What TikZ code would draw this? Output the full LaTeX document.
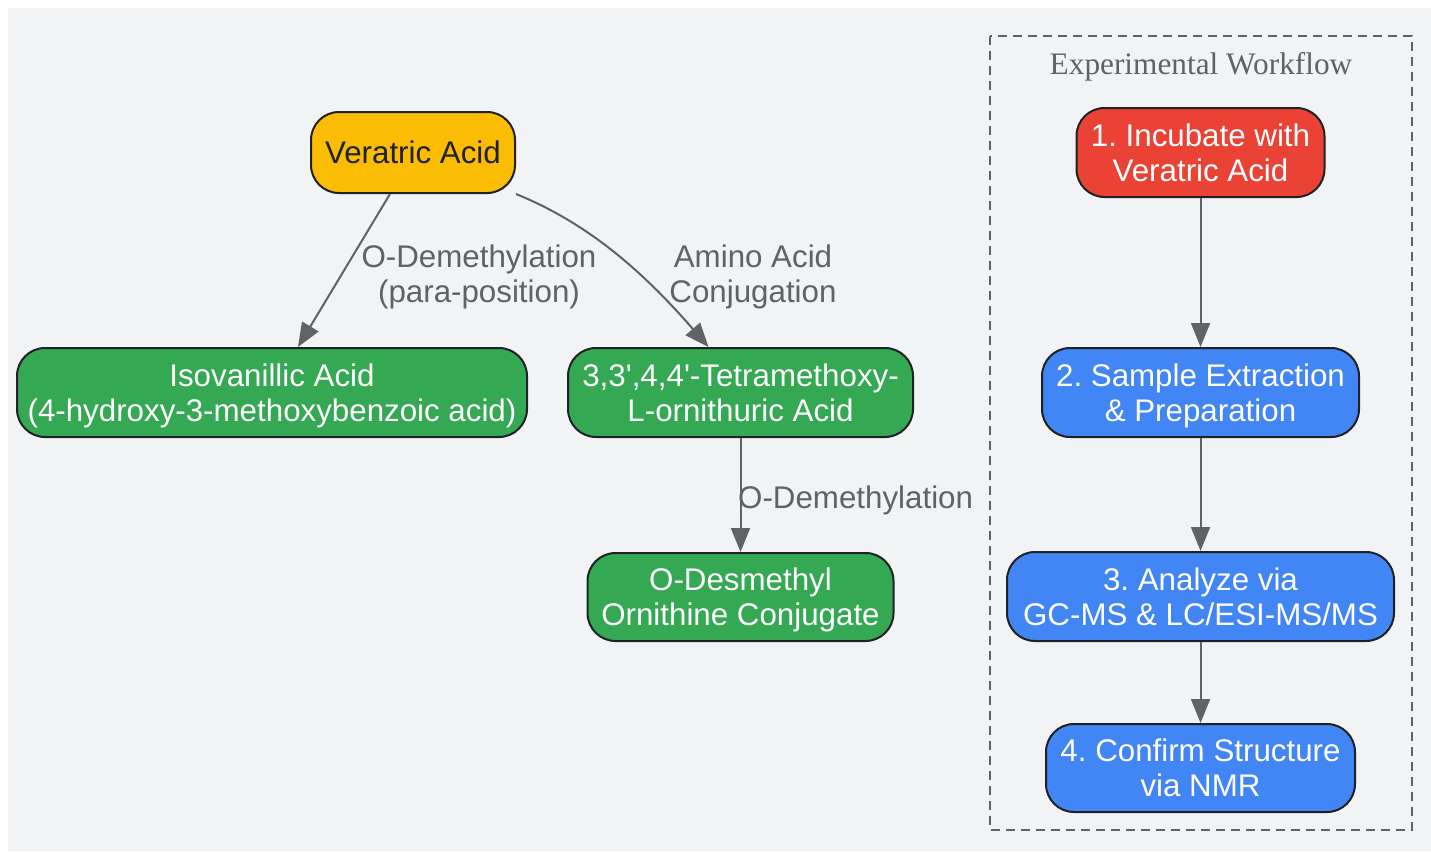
\documentclass[tikz,border=0pt]{standalone}
\usepackage{fontspec}
\setmainfont{Liberation Sans}[Ligatures=TeXOff]
\newfontfamily\titlefont{Liberation Serif}
\usetikzlibrary{arrows.meta}
\definecolor{bg}{HTML}{F1F3F4}
\definecolor{edgegray}{HTML}{5F6368}
\definecolor{bordercol}{HTML}{202124}
\definecolor{gyellow}{HTML}{FBBC04}
\definecolor{ggreen}{HTML}{34A853}
\definecolor{gred}{HTML}{EA4335}
\definecolor{gblue}{HTML}{4285F4}
\tikzset{
  box/.style={draw=bordercol, line width=2pt, rounded corners=28pt, inner sep=0pt, align=center,
    font=\frenchspacing\fontsize{31.3}{35}\selectfont, text=white, text depth=-4pt},
  lbl/.style={inner sep=0pt, align=center, text=edgegray, font=\fontsize{31.3}{35}\selectfont},
  conn/.style={draw=edgegray, line width=2pt, -{Triangle[length=24pt,width=19pt]}},
}
\begin{document}
\begin{tikzpicture}[x=1pt,y=-1pt]
\useasboundingbox (0,0) rectangle (1431,851);
\fill[white] (0,0) rectangle (1431,851);
\fill[bg] (8,8) rectangle (1431,851);
% workflow cluster
\draw[edgegray, line width=2pt, dash pattern=on 9pt off 6pt] (990,36) rectangle (1412,830);
\node[inner sep=0pt, text=edgegray, font=\titlefont\fontsize{31.3}{35}\selectfont] (wftitle) at (1201,67) {Experimental Workflow};
% pathway nodes
\node[box, fill=gyellow, text=bordercol, text depth=-1pt, minimum width=204pt, minimum height=81pt] (va) at (413,152.5) {Veratric Acid};
\node[box, fill=ggreen, minimum width=510pt, minimum height=89pt] (iso) at (272,392.5) {Isovanillic Acid\\(4-hydroxy-3-methoxybenzoic acid)};
\node[box, fill=ggreen, minimum width=345pt, minimum height=89pt] (tm) at (740.5,392.5) {3,3',4,4'-Tetramethoxy-\\L-ornithuric Acid};
\node[box, fill=ggreen, minimum width=306pt, minimum height=88pt] (od) at (740.5,597) {O-Desmethyl\\Ornithine Conjugate};
% workflow nodes
\node[box, fill=gred, minimum width=248pt, minimum height=89pt] (s1) at (1200.5,152.5) {1. Incubate with\\Veratric Acid};
\node[box, fill=gblue, minimum width=317pt, minimum height=89pt] (s2) at (1200.5,392.5) {2. Sample Extraction\\\& Preparation};
\node[box, fill=gblue, minimum width=387pt, minimum height=89pt] (s3) at (1200.5,596.5) {3. Analyze via\\GC-MS \& LC/ESI-MS/MS};
\node[box, fill=gblue, minimum width=309pt, minimum height=88pt] (s4) at (1200.5,768) {4. Confirm Structure\\via NMR};
% edges
\draw[conn] ([xshift=-23pt]va.south) -- ([xshift=26pt]iso.north);
\draw[conn] (va.south east) .. controls (585,222) and (640,268) .. ([xshift=-32pt]tm.north);
\draw[conn] (tm.south) -- (od.north);
\draw[conn] (s1.south) -- (s2.north);
\draw[conn] (s2.south) -- (s3.north);
\draw[conn] (s3.south) -- (s4.north);
% edge labels
\node[lbl] (l1) at (479,277) {O-Demethylation\\(para-position)};
\node[lbl] (l2) at (753,277) {Amino Acid\\Conjugation};
\node[lbl, anchor=west] (l3) at (738,500) {O-Demethylation};
\end{tikzpicture}
\end{document}
